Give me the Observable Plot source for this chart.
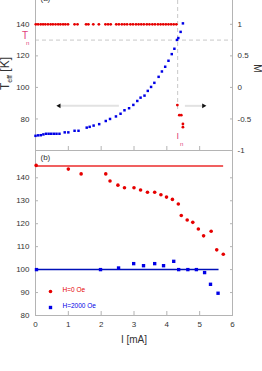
<!DOCTYPE html>
<html><head><meta charset="utf-8">
<script src="https://cdn.jsdelivr.net/npm/d3@7"></script>
<script src="https://cdn.jsdelivr.net/npm/@observablehq/plot@0.6"></script>
<style>
body{margin:0;background:#fff;}
#wrap{position:relative;width:262px;height:371px;background:#fff;font-family:"Liberation Sans",Arial,sans-serif;overflow:hidden}
#topPanel,#botPanel,#ov{position:absolute;left:0}
#topPanel{top:0}
#botPanel{top:150px}
#ov{top:0;pointer-events:none}
</style></head>
<body>
<div id="wrap"><div id="topPanel"></div><div id="botPanel"></div>
<svg id="ov" width="262" height="371" font-family="Liberation Sans, Arial, sans-serif">
  <text transform="translate(9,73.5) rotate(-90)" text-anchor="middle" font-size="12" fill="#333">T<tspan font-size="7" dy="2.5">eff</tspan><tspan dy="-2.5"> [K]</tspan></text>
  <text transform="translate(257,68.5) rotate(90)" text-anchor="middle" dominant-baseline="middle" font-size="10" fill="#333">M</text>
</svg>
</div>
<script>
// ---- Top panel data ----
const I_M = [0.01,0.08,0.16,0.23,0.30,0.38,0.46,0.53,0.61,0.69,0.76,0.84,0.91,0.99,1.19,1.28,1.54,1.61,1.76,1.93,2.13,2.21,2.29,2.46,2.54,2.63,2.71,2.79,2.89,2.97,3.06,3.14,3.22,3.30,3.39,3.47,3.56,3.64,3.73,3.81,3.89,3.97,4.05,4.13,4.21,4.29,4.32,4.38,4.44,4.49,4.49];
const M_vals = [1,1,1,1,1,1,1,1,1,1,1,1,1,1,1,1,1,1,1,1,1,1,1,1,1,1,1,1,1,1,1,1,1,1,1,1,1,1,1,1,1,1,1,1,1,1,-0.28,-0.44,-0.44,-0.58,-0.63];
const I_Teff = [0,0.08,0.16,0.24,0.32,0.40,0.48,0.56,0.64,0.73,0.89,1.00,1.19,1.31,1.56,1.65,1.77,1.94,2.14,2.27,2.45,2.59,2.71,2.85,2.98,3.10,3.20,3.32,3.42,3.52,3.62,3.75,3.85,3.95,4.05,4.15,4.23,4.31,4.35,4.42,4.49];
const Teff = [69.3,69.6,69.7,70.2,70.6,70.6,70.6,70.6,70.6,70.6,71.5,71.5,72.5,72.5,74.5,75.0,75.8,76.7,78.7,80.0,81.6,83.3,85.5,86.8,88.9,91.4,93.5,94.8,97.8,100.3,102.9,106.7,110.1,113.1,116.9,121.1,124.5,130.1,131.3,135.2,140.6];
const Tn = 130;      // K
const In = 4.33;     // mA
const arrowStart = [2.54, 4.55];
const arrowEnd = [0.72, 5.12];
const arrowT = [88.3, 88.3];
const topLeftTicks = [80,100,120,140];
const rightTickM = [1,0.5,0,-0.5,-1];
const topXTicks = [1,2,3,4,5];

// ---- Bottom panel data ----
const I_H0 = [0.02,1.00,1.39,2.14,2.27,2.51,2.71,3.00,3.20,3.41,3.63,3.82,3.99,4.17,4.35,4.44,4.62,4.79,4.96,5.12,5.35,5.52,5.72];
const T_H0 = [145.4,143.8,141.7,141.7,138.6,136.8,135.7,135.7,134.7,133.7,133.7,132.6,131.6,130.6,128.6,123.6,121.6,120.6,117.7,114.7,116.7,108.6,106.7];
const I_H2000 = [0.03,1.98,2.53,2.99,3.29,3.63,3.90,4.21,4.36,4.64,4.90,5.15,5.33,5.56];
const T_H2000 = [100,100,100.7,102.6,101.7,102.6,101.7,103.6,100,100,100,98.7,93.6,89.7];
const fitH0 = {T: 145.2, Iend: 5.73};
const fitH2000 = {T: 100, Iend: 5.59};
const botYTicks = [80,90,100,110,120,130,140];
const botXTicks = [0,1,2,3,4,5,6];
const legendLabels = ["H=0 Oe","H=2000 Oe"];

const RED = "#e60000", BLUE = "#0000e6", PINK = "#e0407a", AX = "#b4b4b4";
const FONT = "Liberation Sans, Arial, sans-serif";
const mToT = m => 100 + 40*m;

const mData = I_M.map((x,i)=>({x, T: mToT(M_vals[i])}));
const tData = I_Teff.map((x,i)=>({x, T: Teff[i]}));
const arrows = arrowStart.map((x1,i)=>({x1, x2: arrowEnd[i], y: arrowT[i]}));

const topChart = Plot.plot({
  width: 262, height: 150,
  marginLeft: 35, marginRight: 30, marginTop: 0, marginBottom: 0,
  x: {domain: [0,6]},
  y: {domain: [60,155.1]},
  style: {background: "transparent", overflow: "visible", fontFamily: FONT, fontSize: "8px", color: "#333"},
  marks: [
    Plot.ruleY([Tn], {stroke: "#c8c8c8", strokeDasharray: "4,3"}),
    Plot.ruleX([In], {y1: 86, y2: 155.1, stroke: "#c8c8c8", strokeDasharray: "4,3"}),
    Plot.ruleX([0,6], {stroke: AX}),
    Plot.ruleY([60], {stroke: AX}),
    Plot.axisY(topLeftTicks, {anchor: "left", tickSize: -3, tickPadding: 9, stroke: AX, label: null}),
    Plot.axisY(rightTickM.map(mToT), {anchor: "right", tickSize: -3, tickPadding: 8, stroke: AX, label: null, tickFormat: d => String((d-100)/40)}),
    Plot.axisX(topXTicks, {anchor: "bottom", tickSize: -4, stroke: AX, label: null, tickFormat: () => ""}),
    Plot.link(arrows, {x1: "x1", x2: "x2", y1: "y", y2: "y", stroke: "#e2e2e2", strokeWidth: 2}),
    Plot.dot(arrows, {x: "x2", y: "y", symbol: "triangle2", rotate: d => d.x2 < d.x1 ? -90 : 90, r: 2.3, fill: "#111", stroke: "none"}),
    Plot.dot(mData, {x: "x", y: "T", r: 1.4, fill: RED, stroke: "none"}),
    Plot.dot(tData, {x: "x", y: "T", symbol: "square", r: 1.4, fill: BLUE, stroke: "none"}),
    Plot.text(["T"], {y: Tn, frameAnchor: "left", dx: -13.5, dy: -4.5, fill: PINK, fontSize: 10}),
    Plot.text(["n"], {y: Tn, frameAnchor: "left", dx: -9.5, dy: 3, fill: PINK, fontSize: 6}),
    Plot.text(["I"], {x: In, frameAnchor: "bottom", dy: -11.5, fill: PINK, fontSize: 9}),
    Plot.text(["n"], {x: In, frameAnchor: "bottom", dx: 4, dy: -5, fill: PINK, fontSize: 6}),
    Plot.text(["(a)"], {frameAnchor: "top-left", dx: 5, dy: 0.5, textAnchor: "start", lineAnchor: "bottom", fontSize: 8})
  ]
});
document.getElementById("topPanel").appendChild(topChart);

const h0 = I_H0.map((x,i)=>({x, T: T_H0[i]}));
const h2 = I_H2000.map((x,i)=>({x, T: T_H2000[i]}));

const botChart = Plot.plot({
  width: 262, height: 200,
  marginLeft: 35, marginRight: 30, marginTop: 0, marginBottom: 35,
  x: {domain: [0,6]},
  y: {domain: [80,151.9]},
  style: {background: "transparent", overflow: "visible", fontFamily: FONT, fontSize: "8px", color: "#333"},
  marks: [
    Plot.frame({stroke: AX}),
    Plot.axisY(botYTicks, {anchor: "left", tickSize: -3, tickPadding: 9, stroke: AX, label: null}),
    Plot.axisY(botYTicks, {anchor: "right", tickSize: -3, stroke: AX, label: null, tickFormat: () => ""}),
    Plot.axisX(botXTicks, {anchor: "bottom", tickSize: -4, tickPadding: 10, stroke: AX, label: null}),
    Plot.ruleY([fitH0], {y: "T", x1: 0, x2: "Iend", stroke: "#f06060", strokeWidth: 2}),
    Plot.ruleY([fitH2000], {y: "T", x1: 0, x2: "Iend", stroke: "#0010b8", strokeWidth: 1.5}),
    Plot.dot(h0, {x: "x", y: "T", r: 1.8, fill: RED, stroke: "none"}),
    Plot.dot(h2, {x: "x", y: "T", symbol: "square", r: 1.9, fill: BLUE, stroke: "none"}),
    Plot.dot([legendLabels[0]], {frameAnchor: "bottom-left", dx: 15, dy: -24, r: 1.8, fill: RED, stroke: "none"}),
    Plot.dot([legendLabels[1]], {frameAnchor: "bottom-left", dx: 15, dy: -8, symbol: "square", r: 1.9, fill: BLUE, stroke: "none"}),
    Plot.text([legendLabels[0]], {frameAnchor: "bottom-left", dx: 27, dy: -24, textAnchor: "start", fill: RED, fontSize: 6.5}),
    Plot.text([legendLabels[1]], {frameAnchor: "bottom-left", dx: 27, dy: -8, textAnchor: "start", fill: BLUE, fontSize: 6.5}),
    Plot.text(["(b)"], {frameAnchor: "top-left", dx: 5, dy: 3.5, textAnchor: "start", lineAnchor: "top", fontSize: 8}),
    Plot.text(["I [mA]"], {frameAnchor: "bottom", dy: 27.6, lineAnchor: "bottom", fontSize: 10})
  ]
});
document.getElementById("botPanel").appendChild(botChart);
</script>
</body></html>
